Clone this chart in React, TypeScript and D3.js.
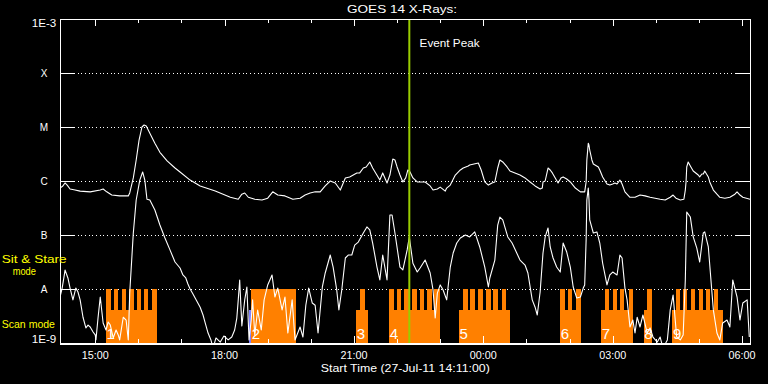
import React from "react";
import * as d3 from "d3";

// ---------------- data ----------------
const startTime = "14:11";
const endTime = "06:11";
const chartTitle = "GOES 14 X-Rays:";
const xAxisTitle = "Start Time (27-Jul-11 14:11:00)";
const eventPeakTime = "22:17";
const eventPeakLabel = "Event Peak";

const yTickValues = [1e-9, 1e-8, 1e-7, 1e-6, 1e-5, 1e-4, 1e-3];
const yTickLabels = ["1E-9", "A", "B", "C", "M", "X", "1E-3"];

// GOES long channel (1-8 A), W/m^2
const longChannel: [string, number][] = [
  ["14:11", 7.4e-7], ["14:15", 8.1e-7], ["14:18", 9.2e-7], ["14:21", 8.4e-7], ["14:25", 7.1e-7],
  ["14:32", 6.8e-7], ["14:39", 6.5e-7], ["14:53", 6.3e-7], ["15:07", 6.8e-7], ["15:11", 7.1e-7],
  ["15:16", 6.3e-7], ["15:23", 5.5e-7], ["15:34", 5.3e-7], ["15:46", 5.3e-7], ["15:48", 6.0e-7],
  ["15:53", 1.14e-6], ["15:57", 2.45e-6], ["16:01", 5.7e-6], ["16:05", 1.0e-5], ["16:08", 1.09e-5],
  ["16:11", 1.04e-5], ["16:16", 7.7e-6], ["16:23", 5.0e-6], ["16:30", 3.4e-6], ["16:40", 2.35e-6],
  ["16:51", 1.74e-6], ["16:58", 1.47e-6], ["17:12", 1.04e-6], ["17:26", 8.1e-7], ["17:47", 6.5e-7],
  ["18:08", 5.0e-7], ["18:19", 4.6e-7], ["18:24", 5.7e-7], ["18:28", 6.0e-7], ["18:33", 5.0e-7],
  ["18:42", 4.6e-7], ["18:52", 4.45e-7], ["19:00", 4.8e-7], ["19:07", 6.3e-7], ["19:14", 5.5e-7],
  ["19:24", 5.3e-7], ["19:35", 4.6e-7], ["19:45", 4.8e-7], ["19:52", 5.5e-7], ["19:59", 6.0e-7],
  ["20:06", 6.3e-7], ["20:13", 6.3e-7], ["20:20", 8.1e-7], ["20:27", 1.0e-6], ["20:34", 9.2e-7],
  ["20:41", 6.8e-7], ["20:48", 1.14e-6], ["20:54", 1.19e-6], ["21:04", 1.41e-6], ["21:08", 1.41e-6],
  ["21:13", 1.74e-6], ["21:17", 1.82e-6], ["21:22", 2.25e-6], ["21:26", 1.74e-6], ["21:31", 1.35e-6],
  ["21:36", 1.04e-6], ["21:40", 1.41e-6], ["21:46", 9.2e-7], ["21:50", 1.29e-6], ["21:54", 2.55e-6],
  ["21:57", 2.45e-6], ["22:00", 1.82e-6], ["22:04", 1.29e-6], ["22:08", 9.6e-7], ["22:12", 1.14e-6],
  ["22:15", 1.6e-6], ["22:18", 1.47e-6], ["22:22", 1.14e-6], ["22:28", 9.6e-7], ["22:32", 9.6e-7],
  ["22:39", 9.6e-7], ["22:46", 8.1e-7], ["22:50", 6.8e-7], ["22:56", 7.1e-7], ["23:00", 7.7e-7],
  ["23:07", 6.5e-7], ["23:09", 7.4e-7], ["23:14", 8.4e-7], ["23:21", 1.29e-6], ["23:28", 1.6e-6],
  ["23:32", 1.74e-6], ["23:39", 1.9e-6], ["23:41", 1.98e-6], ["23:47", 2.06e-6], ["23:53", 2.15e-6],
  ["23:57", 1.6e-6], ["00:02", 9.6e-7], ["00:07", 8.4e-7], ["00:12", 9.2e-7], ["00:16", 9.6e-7],
  ["00:20", 1.74e-6], ["00:23", 2.45e-6], ["00:27", 2.25e-6], ["00:33", 1.82e-6], ["00:37", 1.53e-6],
  ["00:44", 1.41e-6], ["00:51", 1.29e-6], ["00:58", 1.14e-6], ["01:05", 9.6e-7], ["01:12", 8.1e-7],
  ["01:19", 7.1e-7], ["01:22", 7.4e-7], ["01:23", 9.6e-7], ["01:26", 1.0e-6], ["01:30", 1.74e-6],
  ["01:33", 1.6e-6], ["01:36", 1.41e-6], ["01:40", 1.14e-6], ["01:44", 9.2e-7], ["01:48", 1.14e-6],
  ["01:51", 1.19e-6], ["01:56", 1.09e-6], ["02:01", 9.6e-7], ["02:08", 7.4e-7], ["02:15", 6.3e-7],
  ["02:21", 6.3e-7], ["02:23", 9.6e-7], ["02:24", 2.45e-6], ["02:26", 5.0e-6], ["02:27", 4.6e-6],
  ["02:28", 3.75e-6], ["02:31", 2.45e-6], ["02:33", 2.06e-6], ["02:40", 1.82e-6], ["02:42", 1.6e-6],
  ["02:46", 1.19e-6], ["02:52", 8.8e-7], ["02:56", 8.4e-7], ["03:00", 8.8e-7], ["03:03", 9.2e-7],
  ["03:06", 8.8e-7], ["03:10", 1.04e-6], ["03:13", 8.8e-7], ["03:17", 6.3e-7], ["03:24", 5.0e-7],
  ["03:31", 5.0e-7], ["03:38", 5.5e-7], ["03:45", 5.3e-7], ["03:52", 5.0e-7], ["03:59", 4.8e-7],
  ["04:06", 4.6e-7], ["04:13", 4.45e-7], ["04:20", 5.0e-7], ["04:24", 5.5e-7], ["04:28", 4.8e-7],
  ["04:34", 4.45e-7], ["04:39", 4.6e-7], ["04:41", 6.8e-7], ["04:42", 9.6e-7], ["04:43", 1.82e-6],
  ["04:45", 2.25e-6], ["04:48", 1.9e-6], ["04:52", 1.53e-6], ["04:59", 1.29e-6], ["05:01", 1.19e-6],
  ["05:04", 1.35e-6], ["05:06", 1.35e-6], ["05:08", 1.53e-6], ["05:13", 1.19e-6], ["05:15", 9.6e-7],
  ["05:20", 6.8e-7], ["05:25", 5.7e-7], ["05:29", 5.0e-7], ["05:36", 4.8e-7], ["05:43", 5.0e-7],
  ["05:50", 5.7e-7], ["05:53", 6.3e-7], ["05:57", 5.5e-7], ["06:01", 5.0e-7], ["06:11", 4.6e-7],
];

// GOES short channel (0.5-4 A), W/m^2
const shortChannel: [string, number][] = [
  ["14:11", 7.1e-9], ["14:14", 1.04e-8], ["14:17", 1.82e-8], ["14:18", 2.25e-8], ["14:21", 1.74e-8],
  ["14:22", 1.6e-8], ["14:25", 1.04e-8], ["14:29", 6.3e-9], ["14:33", 1.04e-8], ["14:36", 8.8e-9],
  ["14:39", 6.3e-9], ["14:43", 3.0e-9], ["14:47", 1.9e-9], ["14:50", 2.15e-9], ["14:53", 1.98e-9],
  ["14:57", 1.6e-9], ["15:00", 1.41e-9], ["15:01", 1.14e-9], ["15:04", 3.0e-9], ["15:07", 7.1e-9],
  ["15:11", 2.35e-9], ["15:15", 1.74e-9], ["15:18", 2.45e-9], ["15:21", 2.15e-9], ["15:25", 1.24e-9],
  ["15:29", 1.74e-9], ["15:32", 1.41e-9], ["15:34", 1.14e-9], ["15:39", 3.0e-9], ["15:43", 2.66e-9],
  ["15:46", 1.14e-9], ["15:48", 8.4e-9], ["15:53", 1.09e-7], ["15:57", 4.45e-7], ["16:02", 1.04e-6],
  ["16:06", 1.47e-6], ["16:09", 1.04e-6], ["16:12", 4.6e-7], ["16:16", 4.45e-7], ["16:23", 2.9e-7],
  ["16:30", 1.53e-7], ["16:37", 8.8e-8], ["16:44", 5.3e-8], ["16:51", 3.16e-8], ["16:58", 2.45e-8],
  ["17:02", 1.82e-8], ["17:06", 1.6e-8], ["17:09", 1.24e-8], ["17:12", 1.0e-8], ["17:16", 8.1e-9],
  ["17:19", 6.8e-9], ["17:26", 4.6e-9], ["17:30", 3.3e-9], ["17:33", 2.35e-9], ["17:37", 1.53e-9],
  ["17:41", 1.14e-9], ["17:44", 8e-10], ["17:48", 1.24e-9], ["17:54", 1.04e-9], ["17:59", 1.35e-9],
  ["18:05", 1.14e-9], ["18:10", 1.29e-9], ["18:14", 1.74e-9], ["18:17", 2.9e-9], ["18:19", 6.3e-9],
  ["18:21", 1.47e-8], ["18:24", 2.06e-9], ["18:28", 6.3e-9], ["18:31", 1.09e-8], ["18:34", 1.14e-9],
  ["18:37", 2.66e-9], ["18:39", 6.3e-9], ["18:42", 1.41e-9], ["18:46", 4.08e-9], ["18:51", 1.74e-9],
  ["18:55", 6.3e-9], ["19:00", 1.19e-8], ["19:03", 1.47e-8], ["19:06", 1.82e-8], ["19:10", 7.1e-9],
  ["19:14", 1.04e-8], ["19:20", 4.1e-9], ["19:24", 7.1e-9], ["19:28", 1.53e-9], ["19:34", 6.3e-9],
  ["19:38", 1.14e-9], ["19:45", 1.98e-9], ["19:49", 1.29e-9], ["19:53", 5.0e-9], ["19:57", 1.04e-8],
  ["20:02", 5.5e-9], ["20:06", 5.0e-9], ["20:10", 1.53e-9], ["20:16", 1.09e-8], ["20:20", 1.98e-8],
  ["20:27", 4.26e-8], ["20:31", 2.55e-8], ["20:36", 9.6e-9], ["20:39", 4.1e-9], ["20:43", 9.6e-9],
  ["20:48", 3.75e-8], ["20:52", 4.26e-8], ["20:57", 4.26e-8], ["21:01", 6.5e-8], ["21:06", 7.4e-8],
  ["21:13", 1.09e-7], ["21:18", 1.41e-7], ["21:22", 1.24e-7], ["21:26", 7.1e-8], ["21:32", 2.55e-8],
  ["21:36", 1.47e-8], ["21:40", 4.26e-8], ["21:46", 1.47e-8], ["21:50", 2.35e-7], ["21:53", 2.35e-7],
  ["21:57", 1.09e-7], ["22:04", 2.55e-8], ["22:08", 2.25e-8], ["22:14", 5.3e-8], ["22:17", 9.2e-8],
  ["22:22", 3.0e-8], ["22:28", 2.06e-8], ["22:32", 2.45e-8], ["22:39", 3.44e-8], ["22:46", 1.98e-8],
  ["22:50", 9.6e-9], ["22:53", 2.9e-9], ["22:56", 8.4e-9], ["23:00", 1.19e-8], ["23:04", 9.6e-9],
  ["23:09", 6.3e-9], ["23:14", 2.55e-8], ["23:18", 4.64e-8], ["23:23", 7.1e-8], ["23:28", 8.8e-8],
  ["23:35", 1.0e-7], ["23:41", 9.2e-8], ["23:48", 1.14e-7], ["23:55", 6.0e-8], ["00:02", 2.55e-8],
  ["00:07", 1.09e-8], ["00:09", 1.6e-8], ["00:16", 3.44e-8], ["00:20", 1.53e-7], ["00:23", 2.15e-7],
  ["00:27", 1.9e-7], ["00:34", 9.2e-8], ["00:40", 7.1e-8], ["00:51", 3.44e-8], ["00:58", 2.78e-8],
  ["01:02", 1.98e-8], ["01:08", 6.3e-9], ["01:12", 4.6e-9], ["01:15", 3.3e-9], ["01:19", 8.8e-9],
  ["01:23", 4.64e-8], ["01:26", 9.2e-8], ["01:30", 1.35e-7], ["01:33", 6.0e-8], ["01:37", 3.75e-8],
  ["01:42", 2.55e-8], ["01:47", 2.06e-8], ["01:51", 7.1e-8], ["01:56", 4.84e-8], ["02:01", 2.55e-8],
  ["02:05", 1.09e-8], ["02:10", 6.8e-9], ["02:15", 7.1e-9], ["02:19", 1.04e-8], ["02:21", 1.19e-8],
  ["02:23", 8.1e-8], ["02:24", 4.45e-7], ["02:26", 7.4e-7], ["02:27", 4.45e-7], ["02:28", 1.9e-7],
  ["02:33", 1.09e-7], ["02:38", 1.14e-7], ["02:42", 7.1e-8], ["02:46", 3.0e-8], ["02:52", 1.19e-8],
  ["02:56", 1.82e-8], ["03:00", 2.06e-8], ["03:06", 1.82e-8], ["03:10", 4.26e-8], ["03:13", 3.75e-8],
  ["03:17", 1.04e-8], ["03:20", 6.3e-9], ["03:24", 1.98e-9], ["03:28", 2.66e-9], ["03:31", 1.53e-9],
  ["03:34", 3.0e-9], ["03:38", 1.98e-9], ["03:42", 3.3e-9], ["03:48", 1.53e-9], ["03:52", 1.9e-9],
  ["03:56", 1.29e-9], ["04:02", 1.04e-9], ["04:06", 1.29e-9], ["04:10", 8e-10], ["04:16", 1.14e-9],
  ["04:20", 4.1e-9], ["04:24", 7.7e-9], ["04:29", 1.29e-9], ["04:34", 1.14e-9], ["04:38", 1.41e-9],
  ["04:41", 1.47e-8], ["04:43", 2.66e-7], ["04:48", 2.15e-7], ["04:52", 9.2e-8], ["04:57", 5.7e-8],
  ["05:01", 3.16e-8], ["05:06", 1.09e-7], ["05:08", 1.14e-7], ["05:13", 6.0e-8], ["05:17", 1.29e-8],
  ["05:20", 4.1e-9], ["05:25", 1.53e-9], ["05:29", 1.14e-9], ["05:33", 2.35e-9], ["05:39", 2.66e-9],
  ["05:43", 1.98e-9], ["05:47", 1.47e-8], ["05:53", 7.1e-9], ["05:57", 2.66e-9], ["06:01", 5.5e-9],
  ["06:07", 6.3e-9], ["06:10", 1.29e-9],
];

// Telescope pointing mode: [start, end, mode]
const pointingSegments: [string, string, string][] = [
  ["15:15", "15:22", "stare"], ["15:22", "15:26", "scan"], ["15:26", "15:32", "stare"], ["15:32", "15:37", "scan"],
  ["15:37", "15:43", "stare"], ["15:43", "15:47", "scan"], ["15:47", "15:54", "stare"], ["15:54", "15:58", "scan"],
  ["15:58", "16:04", "stare"], ["16:04", "16:08", "scan"], ["16:08", "16:14", "stare"], ["16:14", "16:19", "scan"],
  ["16:19", "16:26", "stare"],
  ["18:34", "18:37", "other"], ["18:37", "19:40", "stare"],
  ["21:03", "21:08", "scan"], ["21:08", "21:15", "stare"], ["21:15", "21:19", "scan"],
  ["21:49", "21:55", "stare"], ["21:55", "22:00", "scan"], ["22:00", "22:05", "stare"], ["22:05", "22:10", "scan"],
  ["22:10", "22:18", "stare"], ["22:18", "22:21", "scan"], ["22:21", "22:27", "stare"], ["22:27", "22:32", "scan"],
  ["22:32", "22:37", "stare"], ["22:37", "22:42", "scan"], ["22:42", "22:48", "stare"], ["22:48", "22:52", "scan"],
  ["22:52", "23:00", "stare"],
  ["23:26", "23:32", "scan"], ["23:32", "23:38", "stare"], ["23:38", "23:42", "scan"], ["23:42", "23:48", "stare"],
  ["23:48", "23:53", "scan"], ["23:53", "23:59", "stare"], ["23:59", "00:04", "scan"], ["00:04", "00:10", "stare"],
  ["00:10", "00:14", "scan"], ["00:14", "00:21", "stare"], ["00:21", "00:26", "scan"], ["00:26", "00:32", "stare"],
  ["00:32", "00:37", "scan"],
  ["01:47", "01:54", "stare"], ["01:54", "01:58", "scan"], ["01:58", "02:04", "stare"], ["02:04", "02:09", "scan"],
  ["02:09", "02:16", "stare"],
  ["02:44", "02:49", "scan"], ["02:49", "02:55", "stare"], ["02:55", "03:00", "scan"], ["03:00", "03:06", "stare"],
  ["03:06", "03:10", "scan"], ["03:10", "03:16", "stare"], ["03:16", "03:22", "scan"], ["03:22", "03:28", "stare"],
  ["03:43", "03:48", "scan"], ["03:48", "03:54", "stare"],
  ["04:23", "04:28", "scan"], ["04:28", "04:34", "stare"], ["04:34", "04:38", "scan"], ["04:38", "04:44", "stare"],
  ["04:44", "04:49", "scan"], ["04:49", "04:55", "stare"], ["04:55", "05:00", "scan"], ["05:00", "05:06", "stare"],
  ["05:06", "05:10", "scan"], ["05:10", "05:16", "stare"], ["05:16", "05:21", "scan"], ["05:21", "05:27", "stare"],
  ["05:27", "05:33", "scan"],
];

const blockLabels: [string, string][] = [
  ["1", "15:15"], ["2", "18:37"], ["3", "21:03"], ["4", "21:49"], ["5", "23:26"],
  ["6", "01:47"], ["7", "02:44"], ["8", "03:43"], ["9", "04:23"],
];

const modeLevel: Record<string, number> = { stare: 1e-8, scan: 4e-9, other: 4e-9 };
const modeColor: Record<string, string> = { stare: "#ff8000", scan: "#ff8000", other: "#7f7fff" };

// ---------------- helpers ----------------
function toDate(s: string): Date {
  const [h, m] = s.split(":").map(Number);
  return new Date(2011, 6, h < 14 ? 28 : 27, h, m);
}

const FONT = "'Liberation Sans', Arial, sans-serif";
const L = 60, R = 750, T = 19, B = 343;

export default function App() {
  const x = d3.scaleTime().domain([toDate(startTime), toDate(endTime)]).range([L, R]);
  const y = d3.scaleLog().domain([1e-9, 1e-3]).range([B, T]);

  const line = d3
    .line<[string, number]>()
    .x((d) => x(toDate(d[0])))
    .y((d) => y(d[1]));

  const hours = d3.timeHour.range(x.domain()[0], x.domain()[1]);
  const fmt = d3.timeFormat("%H:%M");
  const ex = x(toDate(eventPeakTime));

  return (
    <svg
      width={768}
      height={384}
      style={{ position: "fixed", left: 0, top: 0, display: "block", background: "#000" }}
    >
      <rect x={0} y={0} width={768} height={384} fill="#000" />
      <defs>
        <clipPath id="plot">
          <rect x={L} y={T} width={R - L} height={B - T} />
        </clipPath>
      </defs>

      {/* dotted grid lines */}
      {yTickValues.slice(1, -1).map((v, i) => (
        <line
          key={"g" + i}
          x1={74}
          x2={736}
          y1={Math.round(y(v)) + 0.5}
          y2={Math.round(y(v)) + 0.5}
          stroke="#fff"
          strokeWidth={1}
          strokeDasharray="1 2.67"
          shapeRendering="crispEdges"
        />
      ))}

      {/* pointing mode bars */}
      <g shapeRendering="crispEdges">
        {pointingSegments.map(([s, e, mode], i) => {
          const x0 = x(toDate(s));
          const x1 = x(toDate(e));
          const yt = y(modeLevel[mode]);
          return (
            <rect key={"p" + i} x={x0} y={yt} width={x1 - x0} height={B - yt} fill={modeColor[mode]} />
          );
        })}
      </g>
      {blockLabels.map(([lab, t], i) => (
        <text
          key={"bl" + i}
          x={x(toDate(t)) + 0.5}
          y={338.5}
          fill="#fff"
          fontFamily={FONT}
          fontSize={15}
        >
          {lab}
        </text>
      ))}

      {/* flux curves */}
      <g clipPath="url(#plot)" fill="none" stroke="#fff" strokeWidth={1.1} strokeLinejoin="round">
        <path d={line(shortChannel) || ""} />
        <path d={line(longChannel) || ""} />
      </g>

      {/* event peak */}
      <line x1={ex} x2={ex} y1={T} y2={B} stroke="#99cc00" strokeWidth={2} />
      <text x={ex + 10.3} y={46.7} fill="#fff" fontFamily={FONT} fontSize={11.5} textLength={60} lengthAdjust="spacingAndGlyphs">
        {eventPeakLabel}
      </text>

      {/* frame */}
      <g stroke="#fff" shapeRendering="crispEdges" fill="none">
        <line x1={L + 0.5} x2={L + 0.5} y1={T} y2={B + 1} strokeWidth={1} />
        <line x1={R + 0.5} x2={R + 0.5} y1={T} y2={B + 1} strokeWidth={1} />
        <line x1={L} x2={R + 1} y1={T + 0.5} y2={T + 0.5} strokeWidth={1} />
        <line x1={L} x2={R + 1} y1={B + 1} y2={B + 1} strokeWidth={2} />
        {yTickValues.slice(1, -1).map((v, i) => {
          const yy = Math.round(y(v)) + 0.5;
          return (
            <g key={"yt" + i}>
              <line x1={L} x2={74} y1={yy} y2={yy} strokeWidth={1} />
              <line x1={736} x2={R} y1={yy} y2={yy} strokeWidth={1} />
            </g>
          );
        })}
        {hours.map((h, i) => {
          const xx = Math.round(x(h)) + 0.5;
          const len = h.getHours() % 3 === 0 ? 7 : 4;
          return (
            <g key={"xt" + i}>
              <line x1={xx} x2={xx} y1={T} y2={T + len} strokeWidth={1} />
              <line x1={xx} x2={xx} y1={B} y2={B - len} strokeWidth={1} />
            </g>
          );
        })}
      </g>

      {/* y labels */}
      {yTickValues.map((v, i) => {
        const lab = yTickLabels[i];
        const yy = Math.min(Math.max(y(v) + 4.3, 26.7), 343.3);
        const wide = lab.length > 1;
        return (
          <text
            key={"yl" + i}
            x={44}
            y={yy}
            fill="#fff"
            fontFamily={FONT}
            fontSize={10}
            textAnchor="middle"
            {...(wide ? { textLength: 24.5, lengthAdjust: "spacingAndGlyphs" } : {})}
          >
            {lab}
          </text>
        );
      })}

      {/* x labels */}
      {hours
        .filter((h) => h.getHours() % 3 === 0)
        .map((h, i) => (
          <text
            key={"xl" + i}
            x={x(h)}
            y={358.5}
            fill="#fff"
            fontFamily={FONT}
            fontSize={10}
            textAnchor="middle"
            textLength={27}
            lengthAdjust="spacingAndGlyphs"
          >
            {fmt(h)}
          </text>
        ))}

      <text x={405.3} y={371.7} fill="#fff" fontFamily={FONT} fontSize={11.3} textAnchor="middle" textLength={169} lengthAdjust="spacingAndGlyphs">
        {xAxisTitle}
      </text>
      <text x={402} y={13.3} fill="#fff" fontFamily={FONT} fontSize={11.5} textAnchor="middle" textLength={110} lengthAdjust="spacingAndGlyphs">
        {chartTitle}
      </text>

      {/* mode legend */}
      <g fill="#ffff00" fontFamily={FONT} fontSize={11.5}>
        <text x={1.7} y={263.3} textLength={65} lengthAdjust="spacingAndGlyphs">Sit &amp; Stare</text>
        <text x={12.7} y={275} textLength={23.3} lengthAdjust="spacingAndGlyphs">mode</text>
        <text x={1.7} y={328.3} textLength={53.3} lengthAdjust="spacingAndGlyphs">Scan mode</text>
      </g>
    </svg>
  );
}
